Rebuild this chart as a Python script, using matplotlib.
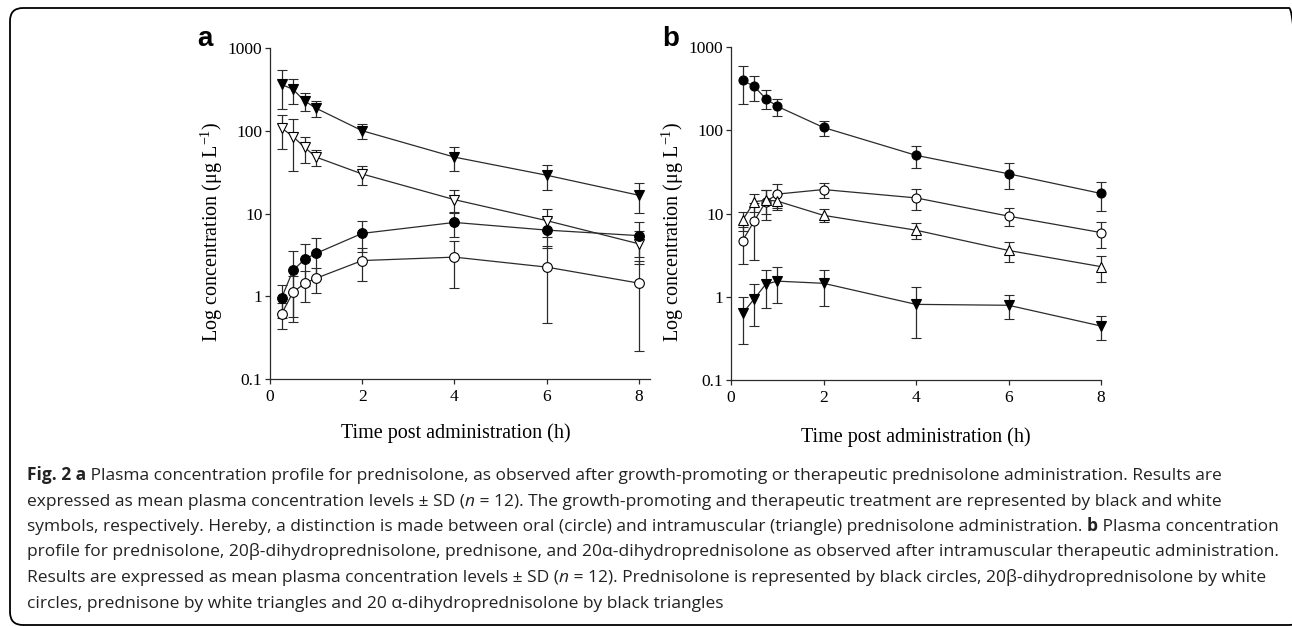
import numpy as np
import matplotlib
matplotlib.use('Agg')
import matplotlib.pyplot as plt
from matplotlib.patches import FancyBboxPatch
from matplotlib.ticker import FixedLocator, NullLocator, FixedFormatter

W, H = 1292, 626

# sampling times (h)
times = [0.25, 0.5, 0.75, 1, 2, 4, 6, 8]

# panel a: prednisolone
a_im_growth = [363, 316, 229, 187, 100, 48, 29, 16.6]
a_im_growth_sd = [180, 104, 58, 42, 20, 15, 10, 6.5]
a_im_ther = [108, 85, 63, 48, 30, 14.7, 8.2, 4.3]
a_im_ther_sd = [48, 52, 22, 10.6, 8, 4.5, 3, 1.85]
a_oral_growth = [0.95, 2.06, 2.79, 3.3, 5.75, 7.8, 6.3, 5.4]
a_oral_growth_sd = [0.4, 1.5, 1.45, 1.7, 2.34, 2.6, 2.5, 2.4]
a_oral_ther = [0.61, 1.12, 1.43, 1.65, 2.7, 2.97, 2.25, 1.44]
a_oral_ther_sd = [0.21, 0.63, 0.58, 0.56, 1.16, 1.72, 1.77, 1.22]

# panel b: IM therapeutic, metabolites
b_prednisolone = [398, 337, 240, 194, 108, 50, 30, 17.4]
b_prednisolone_sd = [194, 112, 62, 46, 22, 15, 10.5, 6.7]
b_20b = [4.7, 8.1, 13.8, 17.1, 19.4, 15.4, 9.3, 5.9]
b_20b_sd = [2.2, 5.3, 5.5, 5.4, 4.1, 4.4, 2.3, 2.1]
b_prednisone = [8.3, 13.8, 14.5, 14.1, 9.5, 6.3, 3.6, 2.3]
b_prednisone_sd = [2.2, 3.3, 4.5, 3.1, 1.7, 1.4, 0.95, 0.8]
b_20a = [0.63, 0.94, 1.41, 1.54, 1.45, 0.81, 0.79, 0.445]
b_20a_sd = [0.36, 0.5, 0.67, 0.71, 0.67, 0.49, 0.25, 0.145]

y_ticks = [0.1, 1, 10, 100, 1000]
y_tick_labels = ['0.1', '1', '10', '100', '1000']
x_ticks = [0, 2, 4, 6, 8]

xlabel = 'Time post administration (h)'
ylabel = 'Log concentration (\u03bcg L$^{-1}$)'

caption_lines = [
    [('Fig. 2 a', 'bold', 'normal'),
     (' Plasma concentration profile for prednisolone, as observed after growth-promoting or therapeutic prednisolone administration. Results are', 'normal', 'normal')],
    [('expressed as mean plasma concentration levels \u00b1 SD (', 'normal', 'normal'), ('n', 'normal', 'italic'),
     (' = 12). The growth-promoting and therapeutic treatment are represented by black and white', 'normal', 'normal')],
    [('symbols, respectively. Hereby, a distinction is made between oral (circle) and intramuscular (triangle) prednisolone administration. ', 'normal', 'normal'),
     ('b', 'bold', 'normal'), (' Plasma concentration', 'normal', 'normal')],
    [('profile for prednisolone, 20\u03b2-dihydroprednisolone, prednisone, and 20\u03b1-dihydroprednisolone as observed after intramuscular therapeutic administration.', 'normal', 'normal')],
    [('Results are expressed as mean plasma concentration levels \u00b1 SD (', 'normal', 'normal'), ('n', 'normal', 'italic'),
     (' = 12). Prednisolone is represented by black circles, 20\u03b2-dihydroprednisolone by white', 'normal', 'normal')],
    [('circles, prednisone by white triangles and 20 \u03b1-dihydroprednisolone by black triangles', 'normal', 'normal')],
]

serif = ['Liberation Serif', 'DejaVu Serif']
cap_font = ['Open Sans', 'DejaVu Sans']
plt.rcParams['mathtext.fontset'] = 'custom'
plt.rcParams['mathtext.rm'] = 'Liberation Serif'
plt.rcParams['mathtext.it'] = 'Liberation Serif:italic'

ink = '#2b2b2b'


def px(x, y):
    return x / W, 1 - y / H


def make_axes(fig, left, top, right, bottom):
    x0, y0 = px(left, bottom)
    x1, y1 = px(right, top)
    ax = fig.add_axes([x0, y0, x1 - x0, y1 - y0])
    ax.set_yscale('log')
    ax.set_ylim(0.1, 1000)
    ax.yaxis.set_major_locator(FixedLocator(y_ticks))
    ax.yaxis.set_major_formatter(FixedFormatter(y_tick_labels))
    ax.yaxis.set_minor_locator(NullLocator())
    ax.set_xticks(x_ticks)
    ax.set_xticklabels([str(v) for v in x_ticks])
    for s in ['top', 'right']:
        ax.spines[s].set_visible(False)
    for s in ['left', 'bottom']:
        ax.spines[s].set_linewidth(0.9)
        ax.spines[s].set_color(ink)
    ax.tick_params(direction='out', length=3.5, width=0.9, color=ink, labelsize=12.5, pad=2)
    ax.tick_params(axis='x', pad=4)
    for lab in ax.get_xticklabels() + ax.get_yticklabels():
        lab.set_family(serif)
    return ax


def series(ax, y, sd, marker, fill, ms):
    ax.errorbar(times, y, yerr=sd, color=ink, lw=0.9, ecolor=ink, elinewidth=0.9,
                capsize=3.6, capthick=0.9, marker=marker, ms=ms, mfc=fill, mec='black',
                mew=0.8, clip_on=False)


fig = plt.figure(figsize=(W / 100, H / 100), dpi=100)

# outer frame (only top-left part falls inside the picture)
frame = FancyBboxPatch((10, H - 625), 1292, 617, boxstyle='round,pad=0,rounding_size=13',
                       transform=None, fill=False, ec='black', lw=1.3)
fig.patches.append(frame)

ax_a = make_axes(fig, 270, 48, 650, 379)
ax_a.set_xlim(0, 8.24)
series(ax_a, a_im_growth, a_im_growth_sd, 'v', 'black', 7.5)
series(ax_a, a_im_ther, a_im_ther_sd, 'v', 'white', 7.5)
series(ax_a, a_oral_growth, a_oral_growth_sd, 'o', 'black', 7)
series(ax_a, a_oral_ther, a_oral_ther_sd, 'o', 'white', 7)

ax_b = make_axes(fig, 731, 47, 1101, 380)
ax_b.set_xlim(0, 8)
series(ax_b, b_prednisolone, b_prednisolone_sd, 'o', 'black', 6.5)
series(ax_b, b_20b, b_20b_sd, 'o', 'white', 6.5)
series(ax_b, b_prednisone, b_prednisone_sd, '^', 'white', 6.5)
series(ax_b, b_20a, b_20a_sd, 'v', 'black', 6.5)

# axis labels
for cx, cy, txt, rot in [(212, 232, ylabel, 90), (673, 232, ylabel, 90),
                         (456, 433, xlabel, 0), (916, 437, xlabel, 0)]:
    fig.text(*px(cx, cy), txt, rotation=rot, ha='center', va='center',
             family=serif, fontsize=14.5, color='black')

# panel letters
fig.text(*px(205, 46), 'a', family=['Liberation Sans', 'DejaVu Sans'], fontweight='bold',
         fontsize=20, ha='center', va='baseline')
fig.text(*px(671, 46), 'b', family=['Liberation Sans', 'DejaVu Sans'], fontweight='bold',
         fontsize=20, ha='center', va='baseline')

# caption, drawn run by run so bold/italic parts sit inline
renderer = fig.canvas.get_renderer()
base_y = 480
for i, runs in enumerate(caption_lines):
    x = 27
    y = base_y + i * 25.5
    for text, weight, style in runs:
        t = fig.text(*px(x, y), text, family=cap_font, fontsize=12.5, fontweight=weight,
                     fontstyle=style, ha='left', va='baseline', color='#222222')
        x += t.get_window_extent(renderer).width

fig.savefig('out.png', dpi=100)
